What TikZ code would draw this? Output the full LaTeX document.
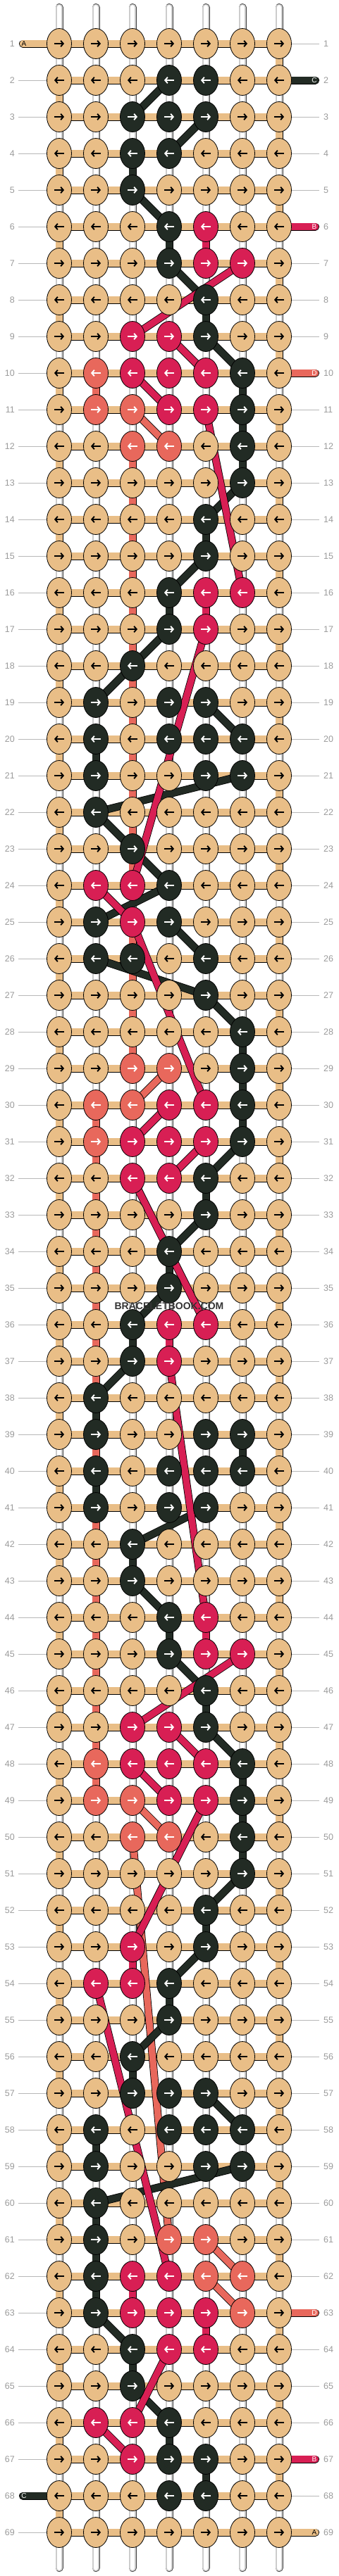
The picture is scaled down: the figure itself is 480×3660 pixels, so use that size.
\documentclass[tikz,border=0pt]{standalone}
\usepackage{fontspec}
\setmainfont{Liberation Sans}
\usetikzlibrary{shapes.geometric, arrows.meta}
\definecolor{kcT}{HTML}{E9BE87}
\definecolor{kcK}{HTML}{222B24}
\definecolor{kcR}{HTML}{D81F54}
\definecolor{kcS}{HTML}{E8685C}
\colorlet{acT}{black}
\colorlet{acK}{white}
\colorlet{acR}{white}
\colorlet{acS}{white}
\definecolor{rowgrey}{HTML}{9A9A9A}
\pgfdeclarelayer{warp}
\pgfdeclarelayer{weft}
\pgfdeclarelayer{threads}
\pgfsetlayers{warp,weft,threads,main}
\tikzset{
    knot/.style={
        ellipse,
        draw=black,
        line width=0.8pt,
        fill=kc#1,
        minimum width=35pt,
        minimum height=43pt,
        inner sep=0pt
    },
    knot arrow/.style={
        line width=1.9pt,
        -{Straight Barb[length=3.6pt,width=8.5pt]}
    },
    thread/.style={
        draw=black,
        line width=0.8pt,
        double=#1,
        double distance=9.4pt
    },
    warp string/.style={
        draw=black!75,
        line width=11pt,
        line cap=round,
        postaction={draw=black!20, line width=9.4pt, line cap=round},
        postaction={draw=white, line width=6.6pt, line cap=round}
    },
    thread end/.style={
        thread=#1,
        line cap=round
    },
    guide/.style={
        draw=black!28,
        line width=0.9pt
    },
    rowlabel/.style={
        text=rowgrey,
        font=\fontsize{12.5}{12.5}\selectfont,
        inner sep=0pt
    },
    endlabel/.style={
        font=\fontsize{10}{10}\selectfont,
        inner sep=0pt
    },
    watermark/.style={
        text=black!80,
        font=\bfseries\fontsize{14}{14}\selectfont,
        inner sep=0pt
    }
}

\begin{document}
\begin{tikzpicture}[x=1pt, y=-1pt]
\useasboundingbox (0,0) rectangle (480,3660);

% knots, row by row
\foreach \row/\ka/\kb/\kc/\kd/\ke/\kf/\kg in {
    1/T/T/T/T/T/T/T, 2/T/T/T/K/K/T/T, 3/T/T/K/K/K/T/T, 4/T/T/K/K/T/T/T,
    5/T/T/K/T/T/T/T, 6/T/T/T/K/R/T/T, 7/T/T/T/K/R/R/T, 8/T/T/T/T/K/T/T,
    9/T/T/R/R/K/T/T, 10/T/S/R/R/R/K/T, 11/T/S/S/R/R/K/T, 12/T/T/S/S/T/K/T,
    13/T/T/T/T/T/K/T, 14/T/T/T/T/K/T/T, 15/T/T/T/T/K/T/T, 16/T/T/T/K/R/R/T,
    17/T/T/T/K/R/T/T, 18/T/T/K/T/T/T/T, 19/T/K/T/K/K/T/T, 20/T/K/T/K/K/K/T,
    21/T/K/T/T/K/K/T, 22/T/K/T/T/T/T/T, 23/T/T/K/T/T/T/T, 24/T/R/R/K/T/T/T,
    25/T/K/R/K/T/T/T, 26/T/K/K/T/K/T/T, 27/T/T/T/T/K/T/T, 28/T/T/T/T/T/K/T,
    29/T/T/S/S/T/K/T, 30/T/S/S/R/R/K/T, 31/T/S/R/R/R/K/T, 32/T/T/R/R/K/T/T,
    33/T/T/T/T/K/T/T, 34/T/T/T/K/T/T/T, 35/T/T/T/K/T/T/T, 36/T/T/K/R/R/T/T,
    37/T/T/K/R/T/T/T, 38/T/K/T/T/T/T/T, 39/T/K/T/T/K/K/T, 40/T/K/T/K/K/K/T,
    41/T/K/T/K/K/T/T, 42/T/T/K/T/T/T/T, 43/T/T/K/T/T/T/T, 44/T/T/T/K/R/T/T,
    45/T/T/T/K/R/R/T, 46/T/T/T/T/K/T/T, 47/T/T/R/R/K/T/T, 48/T/S/R/R/R/K/T,
    49/T/S/S/R/R/K/T, 50/T/T/S/S/T/K/T, 51/T/T/T/T/T/K/T, 52/T/T/T/T/K/T/T,
    53/T/T/R/T/K/T/T, 54/T/R/R/K/T/T/T, 55/T/T/T/K/T/T/T, 56/T/T/K/T/T/T/T,
    57/T/T/K/K/K/T/T, 58/T/K/T/K/K/K/T, 59/T/K/T/T/K/K/T, 60/T/K/T/T/T/T/T,
    61/T/K/T/S/S/T/T, 62/T/K/R/R/S/S/T, 63/T/K/R/R/R/S/T, 64/T/T/K/R/R/T/T,
    65/T/T/K/T/T/T/T, 66/T/R/R/K/T/T/T, 67/T/T/R/K/K/T/T, 68/T/T/T/K/K/T/T,
    69/T/T/T/T/T/T/T}{
    \pgfmathsetmacro{\xa}{mod(\row,2)==1 ? -7 : 7}
    \pgfmathsetmacro{\xb}{mod(\row,2)==1 ? 7 : -7}
    \foreach \col/\kk in {1/\ka,2/\kb,3/\kc,4/\kd,5/\ke,6/\kf,7/\kg}{
        \node[knot=\kk] (k\row-\col) at ({84+52*(\col-1)},{62+52*(\row-1)}) {};
        \draw[knot arrow, draw=ac\kk] ([shift={(\xa,0)}]k\row-\col.center) -- ([shift={(\xb,0)}]k\row-\col.center);
    }
}

% row numbers
\foreach \row in {1,...,69}{
    \node[rowlabel, anchor=east] (ln\row) at (21,{62+52*(\row-1)}) {\row};
    \node[rowlabel, anchor=west] (rn\row) at (459,{62+52*(\row-1)}) {\row};
}

\begin{pgfonlayer}{warp}
    \foreach \col in {1,...,7}{
        \coordinate (wt\col) at ({84+52*(\col-1)},10.5);
        \coordinate (wb\col) at ({84+52*(\col-1)},3648.5);
        \draw[warp string] (wt\col) -- (wb\col);
    }
    \foreach \row in {2,...,67,69}{
        \coordinate (gl\row) at (26,{62+52*(\row-1)});
        \draw[guide] (gl\row) -- (k\row-1.center);
    }
    \foreach \row in {1,3,4,5,7,8,9,11,12,...,62,64,65,66,68}{
        \coordinate (gr\row) at (453,{62+52*(\row-1)});
        \draw[guide] (k\row-7.center) -- (gr\row);
    }
\end{pgfonlayer}

\begin{pgfonlayer}{weft}
    \foreach \row in {1,...,69}
        \draw[thread=kcT] (k\row-1.center) -- (k\row-7.center);
    \foreach \row in {1,...,68}{
        \pgfmathtruncatemacro{\rn}{\row+1}
        \pgfmathtruncatemacro{\tc}{mod(\row,2)==1 ? 7 : 1}
        \draw[thread=kcT] (k\row-\tc.center) -- (k\rn-\tc.center);
    }
\end{pgfonlayer}

\begin{pgfonlayer}{threads}
    % salmon
    \foreach \a/\b in {10-2/11-2, 11-3/12-4, 12-3/24-3, 25-3/29-3, 29-4/30-3,
        30-2/38-2, 39-2/40-2, 41-2/49-2, 49-3/50-4, 50-3/61-4, 61-5/62-6, 62-5/63-6}
        \draw[thread=kcS] (k\a.center) -- (k\b.center);
    % dark
    \foreach \a/\b in {2-4/3-3, 3-5/4-4, 4-3/5-3, 5-3/6-4, 6-4/7-4, 7-4/8-5,
        8-5/9-5, 9-5/10-6, 10-6/13-6, 13-6/14-5, 14-5/15-5, 15-5/16-4, 16-4/17-4,
        17-4/18-3, 18-3/19-2, 19-5/20-6, 20-2/21-2, 21-6/22-2, 22-2/23-3, 23-3/24-4,
        24-4/25-2, 25-4/26-5, 26-2/27-5, 27-5/28-6, 28-6/31-6, 31-6/32-5, 32-5/33-5,
        33-5/34-4, 34-4/35-4, 35-4/36-3, 36-3/37-3, 37-3/38-2, 38-2/39-2, 39-6/40-6,
        40-2/41-2, 41-5/42-3, 42-3/43-3, 43-3/44-4, 44-4/45-4, 45-4/46-5, 46-5/47-5,
        47-5/48-6, 48-6/51-6, 51-6/52-5, 52-5/53-5, 53-5/54-4, 54-4/55-4, 55-4/56-3,
        56-3/57-3, 57-5/58-6, 58-2/59-2, 59-6/60-2, 60-2/63-2, 63-2/64-3, 64-3/65-3,
        65-3/66-4, 66-4/67-4, 67-5/68-5}
        \draw[thread=kcK] (k\a.center) -- (k\b.center);
    % crimson
    \foreach \a/\b in {6-5/7-5, 7-6/9-3, 9-4/10-5, 10-3/11-4, 11-5/16-6, 16-5/17-5,
        17-5/24-3, 24-2/25-3, 25-3/30-5, 30-4/31-3, 31-5/32-4, 32-3/36-5, 36-4/37-4,
        37-4/44-5, 44-5/45-5, 45-6/47-3, 47-4/48-5, 48-3/49-4, 49-5/53-3, 53-3/54-3,
        54-2/62-4, 62-3/63-3, 63-5/64-5, 64-4/66-3, 66-2/67-3}
        \draw[thread=kcR] (k\a.center) -- (k\b.center);
    % loose ends
    \foreach \row/\col/\x/\lx/\s/\ltr/\tcol in {
        1/1/32.5/34/T/A/black, 2/7/447.5/446/K/C/white, 6/7/447.5/446/R/B/white,
        10/7/447.5/446/S/D/white, 63/7/447.5/446/S/D/white, 67/7/447.5/446/R/B/white,
        68/1/32.5/34/K/C/white, 69/7/447.5/446/T/A/black}{
        \coordinate (e\row) at (\x,{62+52*(\row-1)});
        \draw[thread end=kc\s] (k\row-\col.center) -- (e\row);
        \node[endlabel, text=\tcol] (t\row) at (\lx,{62+52*(\row-1)}) {\ltr};
    }
\end{pgfonlayer}

\node[watermark] (wm) at (240,1856) {BRACELETBOOK.COM};

\end{tikzpicture}
\end{document}
